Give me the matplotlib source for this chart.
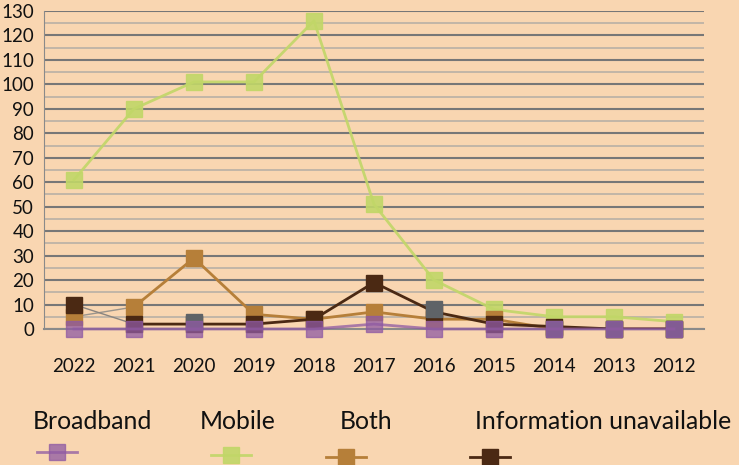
import numpy as np
import matplotlib.pyplot as plt
from matplotlib.lines import Line2D

# data
years = ['2022', '2021', '2020', '2019', '2018', '2017', '2016', '2015', '2014', '2013', '2012']
broadband = [0, 0, 0, 0, 0, 2, 0, 0, 0, 0, 0]
mobile = [61, 90, 101, 101, 126, 51, 20, 8, 5, 5, 3]
both = [5, 9, 29, 6, 4, 7, 4, 4, 0, 0, 0]
info_unavail = [10, 2, 2, 2, 4, 19, 7, 2, 1, 0, 0]
other = [np.nan, np.nan, 3, np.nan, np.nan, np.nan, 8, np.nan, 0, 0, 0]

bg = '#f9d6b1'
c_green = '#c1d768'
c_orange = '#b67f39'
c_brown = '#4b2913'
c_purple = '#8f5aa3'
c_gray = '#5f6367'

plt.rcParams['font.family'] = ['Lato', 'DejaVu Sans']

fig = plt.figure(figsize=(7.39, 4.65), dpi=100, facecolor=bg)
ax = fig.add_axes([0.0595, 0.2925, 0.8931, 0.6839])
ax.set_facecolor(bg)

x = np.arange(len(years))
ms = 11.5

# first segment of both / info drawn as thin gray lines
ax.plot(x[:2], both[:2], color='#9a948c', lw=1, zorder=2)
ax.plot(x[:2], info_unavail[:2], color='#8a8580', lw=1, zorder=2)

ax.plot(x, mobile, color=c_green, lw=2, marker='s', ms=ms, mec=c_green,
        alpha=0.9, zorder=3, clip_on=False)
ax.plot(x[1:], both[1:], color=c_orange, lw=2, zorder=4)
ax.plot(x, both, ls='none', marker='s', ms=ms, color=c_orange, mec=c_orange,
        zorder=4, clip_on=False)
ax.plot(x[1:], info_unavail[1:], color=c_brown, lw=2, zorder=5)
ax.plot(x, info_unavail, ls='none', marker='s', ms=ms, color=c_brown,
        mec=c_brown, zorder=5, clip_on=False)
ax.plot(x, other, ls='none', marker='s', ms=ms, color=c_gray, mec=c_gray,
        zorder=6, clip_on=False)
ax.plot(x, broadband, color=c_purple, lw=2, marker='s', ms=ms, mec=c_purple,
        alpha=0.75, zorder=7, clip_on=False)

ax.set_xlim(-0.5, len(years) - 0.5)
ax.set_ylim(0, 130)
ax.set_xticks(x)
ax.set_xticklabels(years)
ax.set_yticks(np.arange(0, 131, 10))
ax.set_yticks(np.arange(5, 130, 10), minor=True)
ax.tick_params(axis='both', which='both', length=0, labelsize=13.5, colors='#111111')
ax.tick_params(axis='x', pad=21)
ax.tick_params(axis='y', pad=7)

ax.grid(axis='y', which='major', color='#777777', lw=1.5, zorder=0)
ax.grid(axis='y', which='minor', color='#b9b0a6', lw=1.2, zorder=0)
ax.set_axisbelow(True)
for s in ['top', 'right']:
    ax.spines[s].set_visible(False)
ax.spines['left'].set_color('#8a8a8a')
ax.spines['bottom'].set_color('#8a8a8a')
ax.spines['bottom'].set_linewidth(1.5)

# legend drawn by hand: label above, marker below
W, H = 739.0, 465.0
entries = [('Broadband', c_purple, 33, 57, 452, 0.75),
           ('Mobile', c_green, 200, 231, 455, 0.9),
           ('Both', c_orange, 340, 346, 457, 1.0),
           ('Information unavailable', c_brown, 475, 490, 457, 1.0)]
for label, col, tx, mx, my, a in entries:
    fig.text(tx / W, 1 - 421 / H, label, fontsize=17.8, color='#111111',
             ha='left', va='center')
    fig.add_artist(Line2D([(mx - 20) / W, (mx + 20) / W], [1 - my / H] * 2,
                          color=col, lw=2, alpha=a, transform=fig.transFigure))
    fig.add_artist(Line2D([mx / W], [1 - my / H], color=col, marker='s', ms=ms,
                          mec=col, alpha=a, transform=fig.transFigure))

fig.savefig('out.png', dpi=100, facecolor=bg)
